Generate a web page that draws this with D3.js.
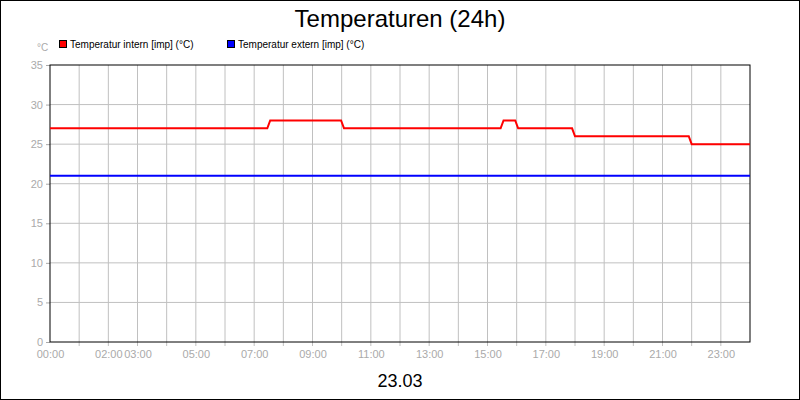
<!DOCTYPE html>
<html><head><meta charset="utf-8">
<script src="https://cdn.jsdelivr.net/npm/d3@7"></script>
<style>body{margin:0;background:#fff}</style>
</head><body>
<script>
// hours since midnight and temperatures
var internHours = [0, 7.45, 7.55, 9.98, 10.08, 15.45, 15.55, 15.95, 16.05, 17.9, 18.0, 21.9, 22.0, 24];
var internTemps = [27, 27, 28, 28, 27, 27, 28, 28, 27, 27, 26, 26, 25, 25];
var externHours = [0, 24];
var externTemps = [21, 21];
var tickHours = [0, 2, 3, 5, 7, 9, 11, 13, 15, 17, 19, 21, 23];
var yTicks = [0, 5, 10, 15, 20, 25, 30, 35];

var w = 800, h = 400;
var pLeft = 50, pRight = 750, pTop = 65, pBottom = 342;

var svg = d3.select("body").append("svg").attr("width", w).attr("height", h)
    .style("font-family", "Arial, 'Liberation Sans', sans-serif");

svg.append("rect").attr("x", 0.5).attr("y", 0.5).attr("width", w - 1).attr("height", h - 1)
    .attr("fill", "#fff").attr("stroke", "#000");

var x = d3.scaleLinear().domain([0, 24]).range([pLeft, pRight]);
var y = d3.scaleLinear().domain([0, 35]).range([pBottom, pTop]);

// grid
svg.append("g").selectAll("line").data(d3.range(1, 24)).enter().append("line")
    .attr("x1", function(d) { return x(d); }).attr("x2", function(d) { return x(d); })
    .attr("y1", pTop).attr("y2", pBottom + 4).attr("stroke", "#c0c0c0");
svg.append("g").selectAll("line").data(yTicks.slice(1, -1)).enter().append("line")
    .attr("x1", pLeft).attr("x2", pRight)
    .attr("y1", function(d) { return y(d); }).attr("y2", function(d) { return y(d); })
    .attr("stroke", "#c0c0c0");

// axes
var xAxis = svg.append("g").attr("transform", "translate(0," + pBottom + ")")
    .call(d3.axisBottom(x).tickValues(tickHours).tickSize(0).tickPadding(8)
        .tickFormat(function(d) { return d3.format("02d")(d) + ":00"; }));
xAxis.select(".domain").remove();
xAxis.selectAll("text").attr("fill", "#aaa").attr("font-size", 11).attr("font-family", null);

var yAxis = svg.append("g").attr("transform", "translate(" + pLeft + ",0)")
    .call(d3.axisLeft(y).tickValues(yTicks).tickSize(4).tickPadding(3));
yAxis.select(".domain").remove();
yAxis.selectAll("line").attr("stroke", "#aaa");
yAxis.selectAll("text").attr("fill", "#aaa").attr("font-size", 11).attr("font-family", null);

svg.append("rect").attr("x", pLeft).attr("y", pTop).attr("width", pRight - pLeft).attr("height", pBottom - pTop)
    .attr("fill", "none").attr("stroke", "#000").attr("stroke-width", 1);

var line = d3.line().x(function(d) { return x(d[0]); }).y(function(d) { return y(d[1]); });
svg.append("path").datum(d3.zip(externHours, externTemps)).attr("d", line)
    .attr("fill", "none").attr("stroke", "#0000ff").attr("stroke-width", 2);
svg.append("path").datum(d3.zip(internHours, internTemps)).attr("d", line)
    .attr("fill", "none").attr("stroke", "#ff0000").attr("stroke-width", 2);

// texts
svg.append("text").attr("x", 400).attr("y", 27).attr("text-anchor", "middle")
    .attr("font-size", 24).text("Temperaturen (24h)");
svg.append("text").attr("x", 400).attr("y", 387).attr("text-anchor", "middle")
    .attr("font-size", 18).text("23.03");
svg.append("text").attr("x", 37).attr("y", 51).attr("fill", "#aaa").attr("font-size", 10).text("°C");

var legend = [["Temperatur intern [imp] (°C)", "#ff0000", 59], ["Temperatur extern [imp] (°C)", "#0000ff", 227]];
legend.forEach(function(l) {
    svg.append("rect").attr("x", l[2] + 0.5).attr("y", 40.5).attr("width", 7).attr("height", 7)
        .attr("fill", l[1]).attr("stroke", "#000");
    svg.append("text").attr("x", l[2] + 11).attr("y", 48).attr("font-size", 10).text(l[0]);
});
</script>
</body></html>
